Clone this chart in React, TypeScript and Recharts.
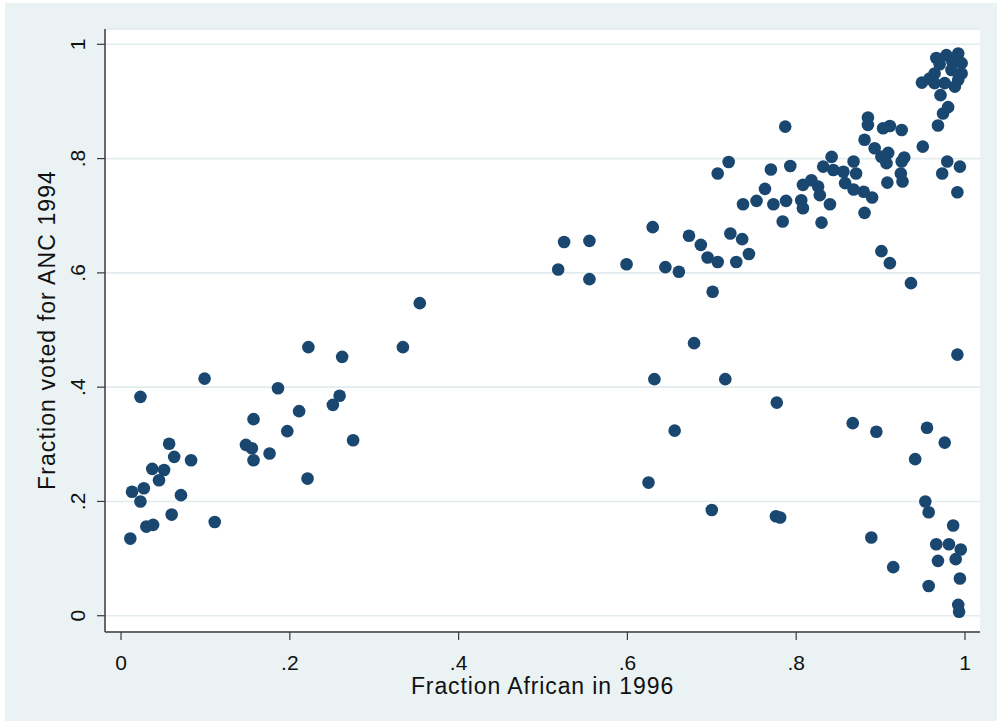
import { ScatterChart, Scatter, XAxis, YAxis, CartesianGrid } from "recharts";

// Fraction African in 1996 (x) and fraction voting ANC in 1994 (y), one entry per district
const fracAfrican = [
  0.099, 0.023, 0.186, 0.259, 0.251, 0.262, 0.157, 0.211, 0.197, 0.275,
  0.057, 0.063, 0.083, 0.148, 0.155, 0.157, 0.176, 0.037, 0.051, 0.045,
  0.013, 0.027, 0.023, 0.071, 0.221, 0.06, 0.03, 0.038, 0.111, 0.011,
  0.222, 0.334, 0.354,
  0.525, 0.555, 0.518, 0.555, 0.599, 0.63, 0.645, 0.661, 0.673, 0.687,
  0.695, 0.707, 0.722, 0.736, 0.729, 0.744, 0.737, 0.701, 0.679, 0.632,
  0.716, 0.656, 0.625, 0.7, 0.777, 0.776, 0.781,
  0.787, 0.72, 0.707, 0.77, 0.793, 0.763, 0.753, 0.773, 0.788, 0.784,
  0.808, 0.818, 0.826, 0.828, 0.806, 0.808, 0.84, 0.83, 0.842, 0.832,
  0.844, 0.856, 0.868, 0.871, 0.858, 0.868, 0.88, 0.89, 0.881, 0.885,
  0.885, 0.881, 0.893, 0.901, 0.907, 0.909, 0.903, 0.911, 0.925, 0.928,
  0.925, 0.924, 0.926, 0.908, 0.95, 0.901, 0.911, 0.936, 0.949, 0.971,
  0.98, 0.974, 0.968, 0.979, 0.973, 0.994, 0.991,
  0.966, 0.978, 0.992, 0.996, 0.996, 0.988, 0.976, 0.964, 0.964, 0.984,
  0.992, 0.97, 0.985, 0.958,
  0.991, 0.867, 0.895, 0.955, 0.976, 0.941, 0.953, 0.957, 0.986, 0.889,
  0.966, 0.981, 0.995, 0.989, 0.968, 0.915, 0.994, 0.957, 0.992, 0.993,
];

const fracANC = [
  0.415, 0.383, 0.398, 0.385, 0.369, 0.453, 0.344, 0.358, 0.323, 0.307,
  0.301, 0.278, 0.272, 0.299, 0.293, 0.272, 0.284, 0.257, 0.255, 0.237,
  0.217, 0.223, 0.2, 0.211, 0.24, 0.177, 0.156, 0.159, 0.164, 0.135,
  0.47, 0.47, 0.547,
  0.654, 0.656, 0.606, 0.589, 0.615, 0.68, 0.61, 0.602, 0.665, 0.649,
  0.627, 0.619, 0.669, 0.659, 0.619, 0.633, 0.72, 0.567, 0.477, 0.414,
  0.414, 0.324, 0.233, 0.185, 0.373, 0.174, 0.172,
  0.856, 0.794, 0.774, 0.781, 0.787, 0.747, 0.726, 0.72, 0.726, 0.69,
  0.754, 0.762, 0.751, 0.736, 0.727, 0.713, 0.72, 0.688, 0.803, 0.786,
  0.78, 0.777, 0.795, 0.774, 0.757, 0.746, 0.742, 0.732, 0.705, 0.872,
  0.859, 0.833, 0.818, 0.803, 0.792, 0.81, 0.853, 0.857, 0.85, 0.802,
  0.795, 0.774, 0.76, 0.758, 0.821, 0.638, 0.617, 0.582, 0.933, 0.911,
  0.89, 0.879, 0.858, 0.795, 0.774, 0.786, 0.741,
  0.976, 0.981, 0.984, 0.967, 0.949, 0.926, 0.932, 0.949, 0.932, 0.955,
  0.938, 0.965, 0.97, 0.94,
  0.457, 0.337, 0.322, 0.329, 0.303, 0.274, 0.2, 0.181, 0.158, 0.137,
  0.125, 0.125, 0.116, 0.099, 0.096, 0.085, 0.065, 0.052, 0.019, 0.007,
];

const tickValues = [0, 0.2, 0.4, 0.6, 0.8, 1];
const tickLabels = ["0", ".2", ".4", ".6", ".8", "1"];

const xTitle = "Fraction African in 1996";
const yTitle = "Fraction voted for ANC 1994";

const points = fracAfrican.map((x, i) => ({ x, y: fracANC[i] }));

const NAVY = "#1A476F";
const BG = "#EAF2F3";
const AXIS = "#3a3a3a";
const FONT = "Arial, 'Liberation Sans', sans-serif";

const labelFor = (v: number) => tickLabels[tickValues.indexOf(v)] ?? String(v);

function XTick({ x, y, payload }: any) {
  return (
    <text x={x} y={y + 28} textAnchor="middle" fill="#111" fontSize={21} fontFamily={FONT}>
      {labelFor(payload.value)}
    </text>
  );
}

function YTick({ x, y, payload }: any) {
  const bx = x - 10;
  return (
    <text
      x={bx}
      y={y}
      transform={`rotate(-90, ${bx}, ${y})`}
      textAnchor="middle"
      fill="#111"
      fontSize={21}
      fontFamily={FONT}
    >
      {labelFor(payload.value)}
    </text>
  );
}

function Dot({ cx, cy }: any) {
  return <circle cx={cx} cy={cy} r={6.3} fill={NAVY} />;
}

export default function App() {
  return (
    <div style={{ position: "absolute", left: 0, top: 0, width: 997, height: 723, background: "#fff" }}>
      <div style={{ position: "absolute", left: 5, top: 3, width: 992, height: 718, background: BG }} />
      <div style={{ position: "absolute", left: 0, top: 0 }}>
        <ScatterChart
          width={997}
          height={723}
          margin={{ top: 29, right: 17, left: 45, bottom: 31 }}
        >
          <CartesianGrid
            vertical={false}
            fill="#ffffff"
            fillOpacity={1}
            stroke="#E2EBED"
            strokeWidth={1.6}
          />
          <XAxis
            type="number"
            dataKey="x"
            domain={[-0.019, 1.0178]}
            allowDataOverflow
            ticks={tickValues}
            tick={<XTick />}
            tickSize={8}
            height={60}
            axisLine={{ stroke: AXIS, strokeWidth: 1.5 }}
            tickLine={{ stroke: AXIS, strokeWidth: 1.2 }}
            label={{
              content: () => (
                <text
                  x={542.5}
                  y={694}
                  textAnchor="middle"
                  fill="#111"
                  fontSize={23}
                  fontFamily={FONT}
                  letterSpacing={0.9}
                >
                  {xTitle}
                </text>
              ),
            }}
          />
          <YAxis
            type="number"
            dataKey="y"
            domain={[-0.0285, 1.0268]}
            allowDataOverflow
            ticks={tickValues}
            tick={<YTick />}
            tickSize={8}
            width={60}
            axisLine={{ stroke: AXIS, strokeWidth: 1.5 }}
            tickLine={{ stroke: AXIS, strokeWidth: 1.2 }}
            label={{
              content: () => (
                <text
                  x={55}
                  y={330}
                  transform="rotate(-90, 55, 330)"
                  textAnchor="middle"
                  fill="#111"
                  fontSize={23}
                  fontFamily={FONT}
                  letterSpacing={1.1}
                >
                  {yTitle}
                </text>
              ),
            }}
          />
          <Scatter data={points} shape={<Dot />} isAnimationActive={false} />
        </ScatterChart>
      </div>
    </div>
  );
}
